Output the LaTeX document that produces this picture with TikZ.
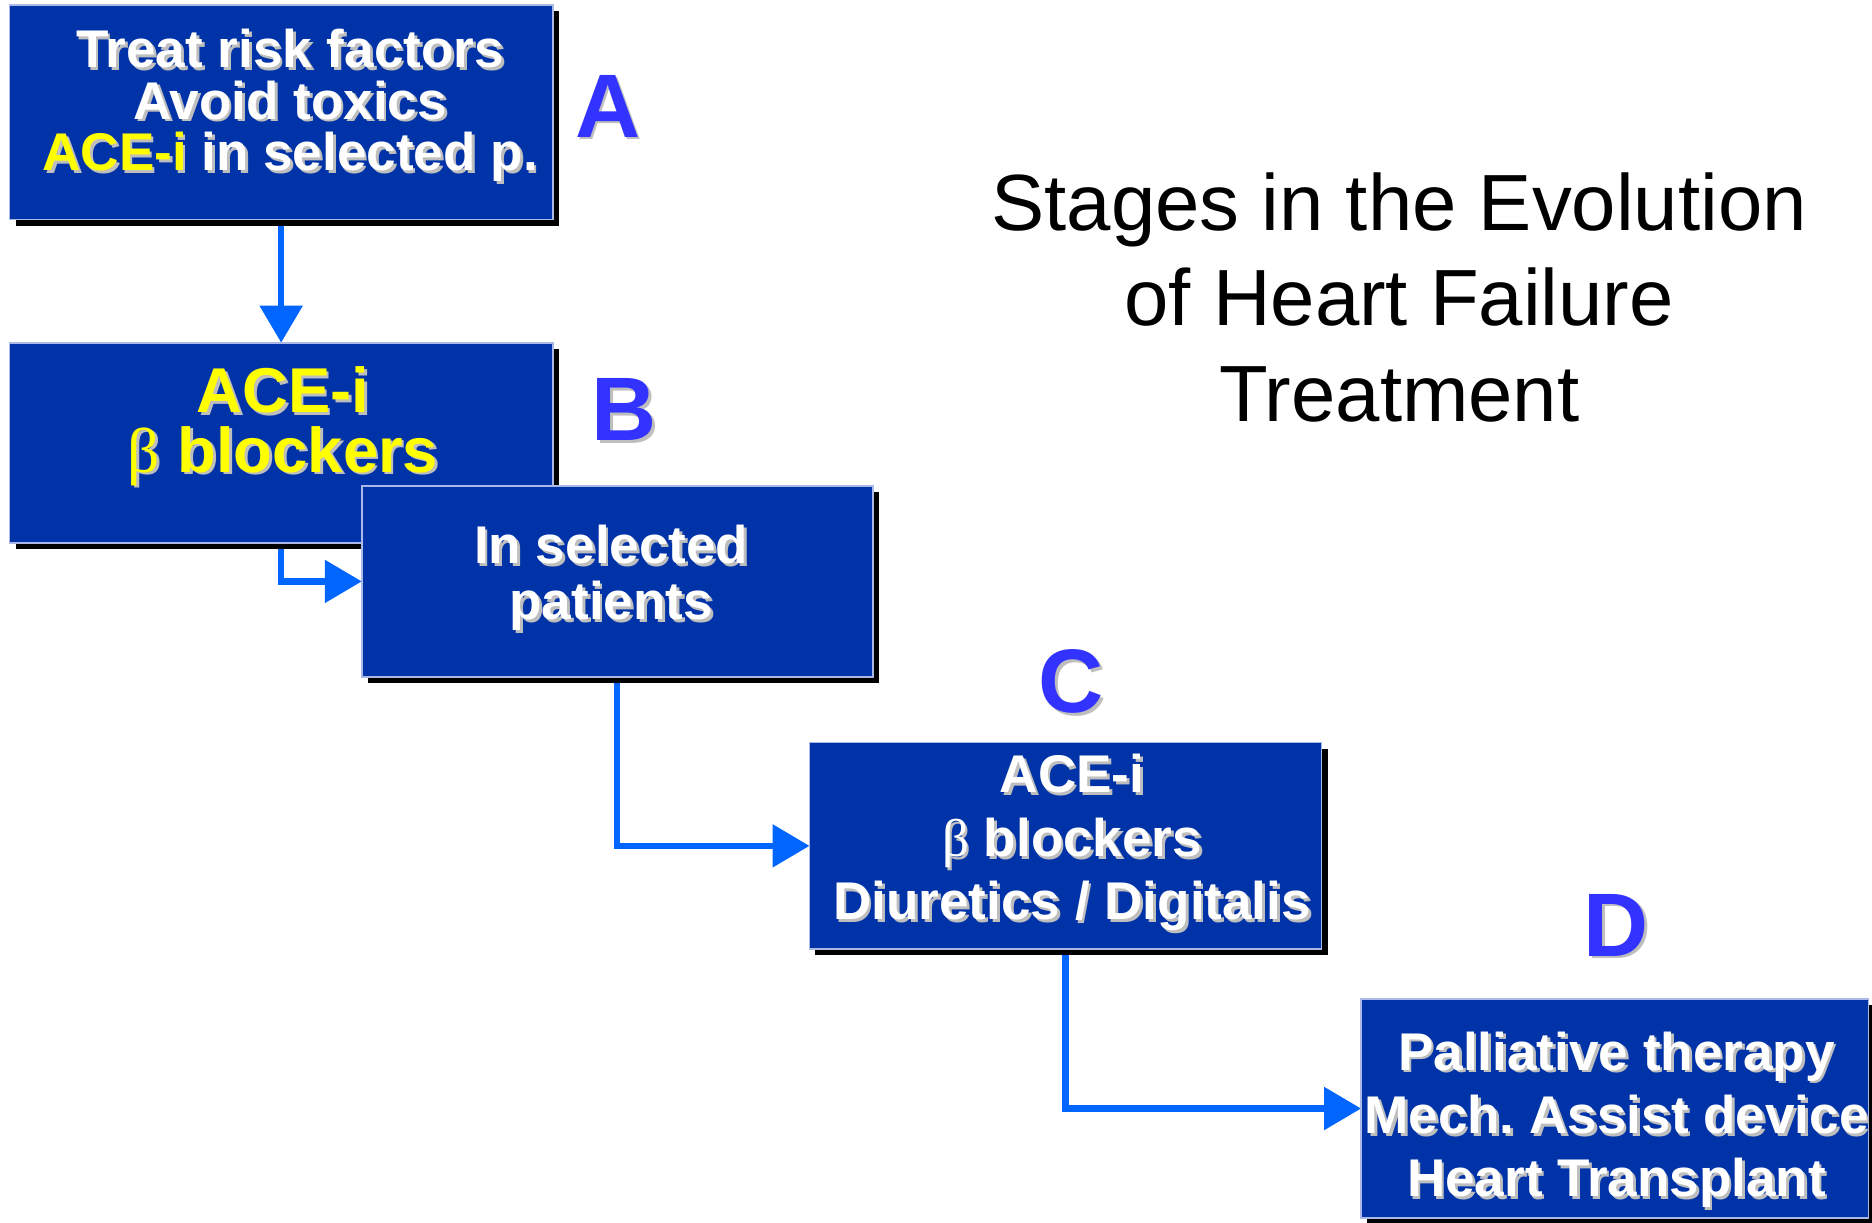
\documentclass[tikz,border=0pt]{standalone}
\usepackage{fontspec}
\setmainfont{Liberation Sans}
\newfontfamily\greekfont{Liberation Serif}
\usetikzlibrary{arrows.meta,shadows}
\frenchspacing

\definecolor{stageblue}{RGB}{0,51,167}
\definecolor{stageedge}{RGB}{170,185,230}
\definecolor{flowblue}{RGB}{0,102,255}
\definecolor{hfyellow}{RGB}{255,255,0}
\definecolor{letterblue}{RGB}{51,51,255}
\definecolor{textshadow}{RGB}{190,190,190}

\pgfdeclarelayer{background}
\pgfsetlayers{background,main}

% text with a small grey shadow
\newcommand{\shtxt}[2][white]{\leavevmode\rlap{\kern1.3pt\raisebox{-1.3pt}{\color{textshadow}#2}}\textcolor{#1}{#2}}

\tikzset{
  stagebox/.style={rectangle, fill=stageblue, draw=stageedge, line width=0.8pt,
    inner sep=0pt, outer sep=0pt,
    drop shadow={shadow xshift=0.1cm, shadow yshift=-0.1cm, fill=black, opacity=1}},
  stagetext/.style={align=center, inner sep=0pt,
    font=\fontsize{25.3}{#1}\selectfont\bfseries},
  stagetext/.default=30.2,
  stageletter/.style={inner sep=0pt, font=\fontsize{43}{43}\selectfont\bfseries},
  flow/.style={flowblue, line width=3pt, -{Triangle[length=0.62cm,width=0.7cm]}}
}

\begin{document}
\begin{tikzpicture}[x=0.02cm, y=-0.02cm]
    \useasboundingbox (0,0) rectangle (1568,1024);
    \begin{pgfonlayer}{background}
        \fill[white] (0,0) rectangle (1568,1024);
    \end{pgfonlayer}

    % stage boxes
    \node[stagebox, minimum width=9.1cm, minimum height=3.6cm] (stageA) at (235.5,94) {};
    \node[stagetext=24.5] (stageAtext) at (243,89.5)
        {\shtxt{Treat risk factors}\\ \shtxt{Avoid toxics}\\ \shtxt[hfyellow]{ACE-i} \shtxt{in selected p.}};

    \node[stagebox, minimum width=9.1cm, minimum height=3.36cm] (stageB) at (235.5,371) {};
    \node[stagetext, font=\fontsize{30.2}{28.5}\selectfont\bfseries] (stageBtext) at (237,358)
        {\shtxt[hfyellow]{ACE-i}\\ \shtxt[hfyellow]{{\greekfont\mdseries β} blockers}};

    \node[stagebox, minimum width=8.56cm, minimum height=3.2cm] (stageS) at (517,487) {};
    \node[stagetext=26.7] (stageStext) at (512,485)
        {\shtxt{In selected}\\ \shtxt{patients}};

    \node[stagebox, minimum width=8.58cm, minimum height=3.46cm] (stageC) at (892.5,708.5) {};
    \node[stagetext] (stageCtext) at (898,707)
        {\shtxt{ACE-i}\\ \shtxt{{\greekfont\mdseries β} blockers}\\ \shtxt{Diuretics / Digitalis}};

    \node[stagebox, minimum width=8.5cm, minimum height=3.66cm] (stageD) at (1352.5,928.5) {};
    \node[stagetext] (stageDtext) at (1354,939)
        {\shtxt{Palliative therapy}\\ \shtxt{Mech. Assist device}\\ \shtxt{Heart Transplant}};

    % stage letters
    \node[stageletter] (letterA) at (509,90) {\shtxt[letterblue]{A}};
    \node[stageletter] (letterB) at (523,344) {\shtxt[letterblue]{B}};
    \node[stageletter] (letterC) at (897,572) {\shtxt[letterblue]{C}};
    \node[stageletter] (letterD) at (1354,776) {\shtxt[letterblue]{D}};

    \node[align=center, font=\fontsize{38}{45.5}\selectfont] (title) at (1172,249)
        {Stages in the Evolution\\of Heart Failure\\Treatment};

    % connectors
    \begin{pgfonlayer}{background}
        \draw[flow] (stageA) -- (stageB);
        \draw[flow] (stageB.south) |- (stageS.west);
        \draw[flow] (stageS.south) |- (stageC.west);
        \draw[flow] (stageC.south) |- (stageD.west);
    \end{pgfonlayer}
\end{tikzpicture}
\end{document}
